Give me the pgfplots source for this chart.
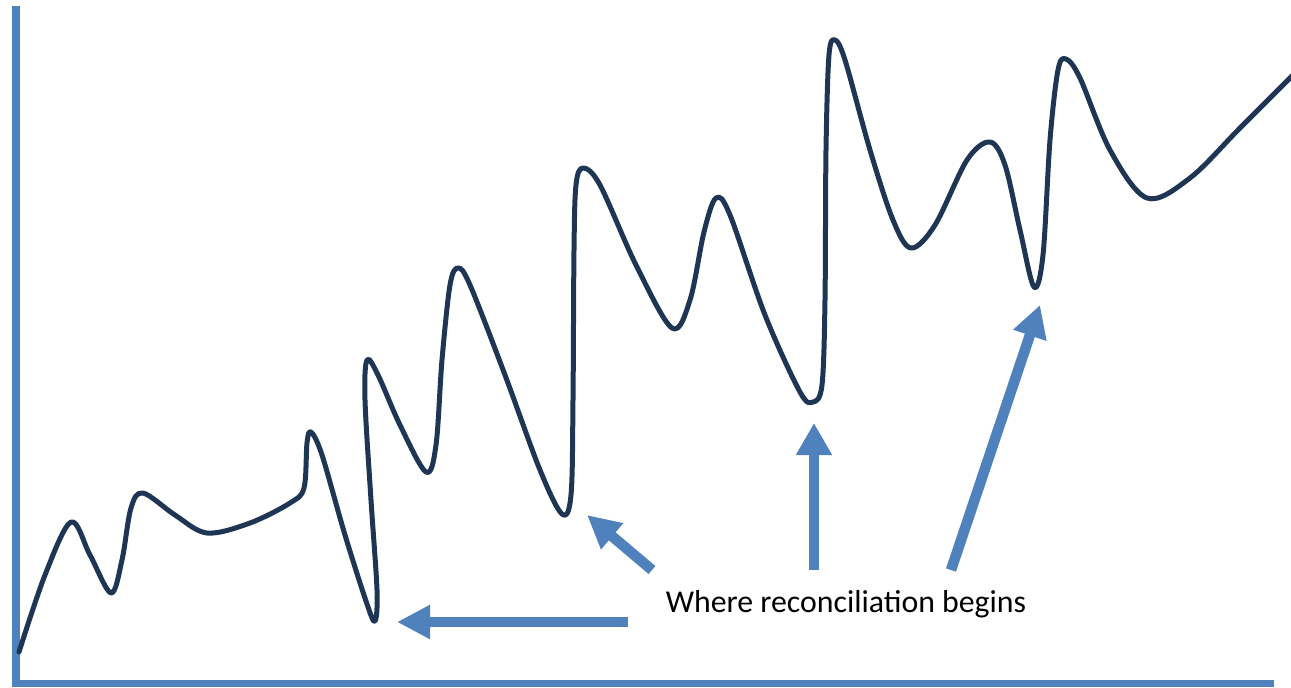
\documentclass[border=0pt]{standalone}
\usepackage{pgfplots}
\pgfplotsset{compat=1.18}
\usepackage{fontspec}
\setmainfont{Carlito}
\usetikzlibrary{arrows.meta}
\definecolor{axblue}{RGB}{79,129,189}
\definecolor{navy}{RGB}{30,54,84}
\begin{document}
\begin{tikzpicture}
  % one unit = one pixel of the reference, y counted from the top
  \begin{axis}[scale only axis, width=645.5pt, height=343.5pt,
      xmin=0, xmax=1291, ymin=0, ymax=687, y dir=reverse, hide axis]
    % axis lines
    \addplot[axblue, line width=3.6pt, line join=miter] coordinates {(16,6) (16,683.5) (1274,683.5)};
    % the curve
    \addplot[navy, line width=2.5pt, smooth, tension=0.55, line join=round, line cap=round] coordinates {
      (19,652) (45,575) (71,522) (90,555) (111,593) (122,560) (131,508) (143,493)
      (175,515) (207,533) (250,523) (290,503) (304,488) (307,443) (311,432) (322,455)
      (345,535) (367,604) (375,621) (377,590) (371,500) (365,400) (367,360) (378,375)
      (400,425) (426,472) (436,445) (442,360) (450,285) (458,268) (470,285) (505,375)
      (540,470) (562,514) (571,495) (573,400) (574,250) (576,185) (583,168) (600,185)
      (636,265) (672,328) (690,300) (704,232) (716,198) (730,215) (765,315) (800,392)
      (813,402) (822,385) (825,300) (826,150) (829,55) (835,40) (845,60) (870,150)
      (893,220) (911,248) (935,225) (967,160) (990,142) (1005,165) (1020,230) (1034,287)
      (1043,255) (1050,140) (1058,70) (1066,59) (1080,78) (1110,150) (1147,198)
      (1190,178) (1240,128) (1295,73)};
    % arrows
    \addplot[axblue, line width=5.25pt, -{Triangle[length=16.5pt, width=16pt]}] coordinates {(628,622) (397,622)};
    \addplot[axblue, line width=5.25pt, -{Triangle[length=16.5pt, width=16pt]}] coordinates {(652,570) (587,515)};
    \addplot[axblue, line width=5.25pt, -{Triangle[length=16pt, width=17pt]}] coordinates {(814,570) (814,423)};
    \addplot[axblue, line width=5.25pt, -{Triangle[length=16pt, width=16.5pt]}] coordinates {(951,570) (1040,305)};
    \node[anchor=base, font=\fontsize{15.9}{19}\selectfont] at (axis cs:846,612) {Where reconciliation begins};
  \end{axis}
  \pgfresetboundingbox
  \path (current axis.south west) rectangle (current axis.north east);
\end{tikzpicture}
\end{document}
